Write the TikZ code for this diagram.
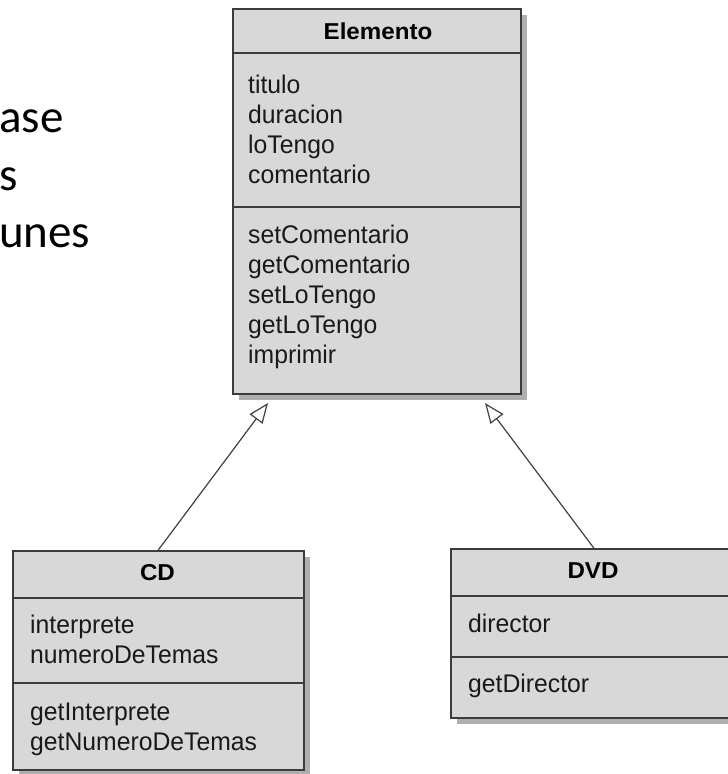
\documentclass[tikz,border=0pt]{standalone}
\usepackage{fontspec}
\setmainfont{Liberation Sans}
\newfontfamily\umlfont[FakeStretch=0.97]{Liberation Sans}
\newfontfamily\umltitlefont[FakeStretch=1.05]{Liberation Sans}
\newfontfamily\slidefont{Carlito}
\usetikzlibrary{arrows.meta,shadows}
\definecolor{boxfill}{RGB}{216,216,216}
\definecolor{boxline}{RGB}{60,60,60}
\definecolor{shadowgray}{RGB}{175,175,175}
\definecolor{txt}{RGB}{25,25,25}
\tikzset{
  umlbox/.style={draw=boxline, line width=1.6pt, fill=boxfill, anchor=north west, inner sep=0pt,
    drop shadow={shadow xshift=6pt, shadow yshift=-6pt, fill=shadowgray, opacity=1}},
  divider/.style={draw=boxline, line width=1.6pt},
  member/.style={font=\umlfont\fontsize{25.5}{30}\selectfont, anchor=base west, inner sep=0pt, text=txt},
  classname/.style={font=\umltitlefont\bfseries\fontsize{23}{26}\selectfont, inner sep=0pt, text=black},
  slide/.style={font=\slidefont\fontsize{47}{56}\selectfont, anchor=base west, inner sep=0pt, text=black},
  inherit/.style={draw=black!75, line width=1.2pt, -{Triangle[open, length=20pt, width=16pt, fill=white]}},
}
\begin{document}
\begin{tikzpicture}[x=1pt,y=1pt]
\fill[white] (0,0) rectangle (728,-774);
\clip (0,0) rectangle (728,-774);

% slide text (cut off at left)
\node[slide] (s1) at (-1,-132) {ase};
\node[slide] (s2) at (-1,-190) {s};
\node[slide] (s3) at (-1,-247) {unes};

% Elemento
\node[umlbox, minimum width=288pt, minimum height=385pt] (elem) at (232,-8) {};
\draw[divider] ([yshift=-45pt]elem.north west) -- ([yshift=-45pt]elem.north east);
\draw[divider] ([yshift=-199pt]elem.north west) -- ([yshift=-199pt]elem.north east);
\node[classname] (elemname) at (378,-31) {Elemento};
\node[member] (e1) at (248,-93) {titulo};
\node[member] (e2) at (248,-123) {duracion};
\node[member] (e3) at (248,-153) {loTengo};
\node[member] (e4) at (248,-183) {comentario};
\node[member] (e5) at (248,-243) {setComentario};
\node[member] (e6) at (248,-273) {getComentario};
\node[member] (e7) at (248,-303) {setLoTengo};
\node[member] (e8) at (248,-333) {getLoTengo};
\node[member] (e9) at (248,-363) {imprimir};

% CD
\node[umlbox, minimum width=291pt, minimum height=219pt] (cd) at (12,-550) {};
\draw[divider] ([yshift=-48pt]cd.north west) -- ([yshift=-48pt]cd.north east);
\draw[divider] ([yshift=-133pt]cd.north west) -- ([yshift=-133pt]cd.north east);
\node[classname] (cdname) at (157.5,-573) {CD};
\node[member] (c1) at (30,-633) {interprete};
\node[member] (c2) at (30,-663) {numeroDeTemas};
\node[member] (c3) at (30,-720) {getInterprete};
\node[member] (c4) at (30,-750) {getNumeroDeTemas};

% DVD
\node[umlbox, minimum width=286pt, minimum height=169pt] (dvd) at (450,-548) {};
\draw[divider] ([yshift=-48pt]dvd.north west) -- ([yshift=-48pt]dvd.north east);
\draw[divider] ([yshift=-109pt]dvd.north west) -- ([yshift=-109pt]dvd.north east);
\node[classname] (dvdname) at (593,-571) {DVD};
\node[member] (d1) at (468,-632) {director};
\node[member] (d2) at (468,-692) {getDirector};

% inheritance arrows
\coordinate (cdtip) at (268,-403);
\coordinate (dvdtip) at (485,-403);
\draw[inherit] (cd.north) -- (cdtip);
\draw[inherit] (dvd.north) -- (dvdtip);
\end{tikzpicture}
\end{document}
